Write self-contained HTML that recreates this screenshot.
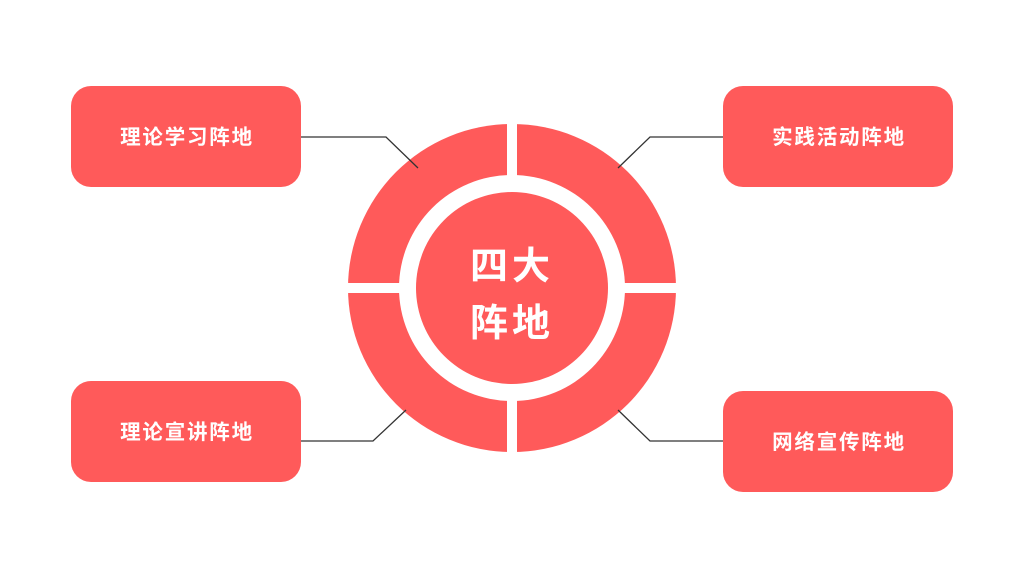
<!DOCTYPE html>
<html><head><meta charset="utf-8"><style>
html,body{margin:0;padding:0;background:#fff;}
svg{display:block;}
text{font-family:"Liberation Sans","Noto Sans CJK SC",sans-serif;font-weight:bold;fill:#fff;}
</style></head><body>
<svg width="1024" height="576" viewBox="0 0 1024 576">
<rect width="1024" height="576" fill="#fff"/>
<circle cx="512" cy="288" r="164" fill="#FF5A5A"/>
<circle cx="512" cy="288" r="113" fill="#fff"/>
<rect x="507" y="120" width="10" height="340" fill="#fff"/>
<rect x="344" y="283" width="336" height="10" fill="#fff"/>
<circle cx="512" cy="288" r="96" fill="#FF5A5A"/>
<g stroke="#333" stroke-width="1.3" fill="none">
<polyline points="301,137 386,137 418,168"/>
<polyline points="723,137 650,137 618,168"/>
<polyline points="301,441 373,441 406,410"/>
<polyline points="723,441 650,441 618,410"/>
</g>
<text x="512" y="279" font-size="38" text-anchor="middle" letter-spacing="4">四大</text>
<text x="512" y="336" font-size="38" text-anchor="middle" letter-spacing="4">阵地</text>
<rect x="71" y="86" width="230" height="101" rx="20" fill="#FF5A5A"/>
<rect x="723" y="86" width="230" height="101" rx="20" fill="#FF5A5A"/>
<rect x="71" y="381" width="230" height="101" rx="20" fill="#FF5A5A"/>
<rect x="723" y="391" width="230" height="101" rx="20" fill="#FF5A5A"/>
<g font-size="20.5" text-anchor="middle" letter-spacing="1.8">
<text x="187" y="144">理论学习阵地</text>
<text x="839" y="144">实践活动阵地</text>
<text x="187" y="439">理论宣讲阵地</text>
<text x="839" y="449">网络宣传阵地</text>
</g>
</svg>
</body></html>
